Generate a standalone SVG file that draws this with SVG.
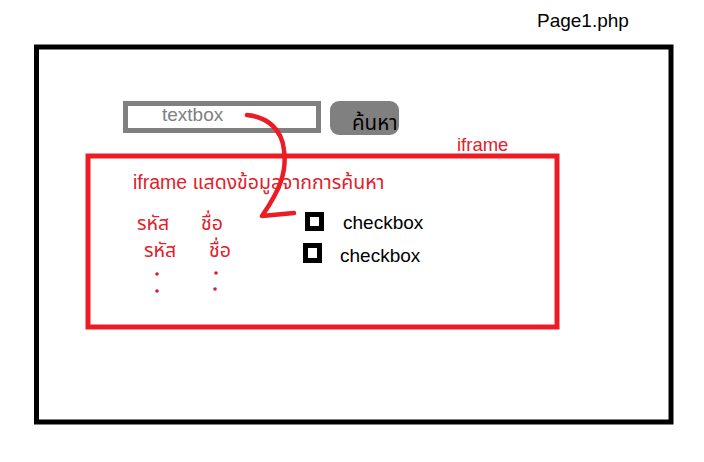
<svg xmlns="http://www.w3.org/2000/svg" width="704" height="462" viewBox="0 0 704 462">
<style>
  text { font-family: "Liberation Sans", "Noto Sans Thai", "Noto Sans", "DejaVu Sans", sans-serif; font-size: 19px; }
  .red { fill: #e3202b; }
  .blk { fill: #000000; }
  .gry { fill: #808080; }
  .dot { fill: #d8202c; }
  .th { font-size: 19.5px; }
</style>
<rect x="0" y="0" width="704" height="462" fill="#ffffff"/>
<g id="page">
  <rect x="36.5" y="47" width="634.5" height="375" fill="none" stroke="#000" stroke-width="5"/>
  <text class="blk" x="537" y="27">Page1.php</text>
</g>
<g id="textbox">
  <rect x="125.5" y="103.5" width="193" height="27" fill="#fff" stroke="#808080" stroke-width="5"/>
  <text class="gry" x="162" y="121">textbox</text>
</g>
<g id="search-button">
  <rect x="330" y="101" width="69" height="34" rx="9" fill="#808080"/>
  <text class="blk" x="352" y="130" style="font-size:20.5px">ค้นหา</text>
</g>
<g id="iframe">
  <rect x="88" y="156" width="469" height="171" fill="none" stroke="#ed1c24" stroke-width="5"/>
  <text class="red" x="457" y="151" style="font-size:18.5px">iframe</text>
  <text class="red th" x="133" y="189">iframe แสดงข้อมูลจากการค้นหา</text>
</g>
<g id="rows">
  <text class="red th" x="137" y="230">รหัส</text>
  <text class="red th" x="201" y="230">ชื่อ</text>
  <text class="red th" x="144" y="257">รหัส</text>
  <text class="red th" x="209" y="257">ชื่อ</text>
  <circle class="dot" cx="157" cy="274" r="1.8"/>
  <circle class="dot" cx="157" cy="291" r="1.8"/>
  <circle class="dot" cx="216" cy="273" r="1.8"/>
  <circle class="dot" cx="215" cy="289" r="1.8"/>
</g>
<g id="checkbox1">
  <rect x="307.5" y="214.5" width="14" height="14" fill="#fff" stroke="#000" stroke-width="5"/>
  <text class="blk" x="343" y="229">checkbox</text>
</g>
<g id="checkbox2">
  <rect x="305.5" y="245.5" width="14" height="15" fill="#fff" stroke="#000" stroke-width="5"/>
  <text class="blk" x="340" y="262">checkbox</text>
</g>
<g id="connectors">
  <path d="M247,115 C268,117 282,130 284,150 C287,172 280,190 262,216 L294,213" fill="none" stroke="#ed1c24" stroke-width="4.5" stroke-linecap="round" stroke-linejoin="round"/>
</g>
</svg>
